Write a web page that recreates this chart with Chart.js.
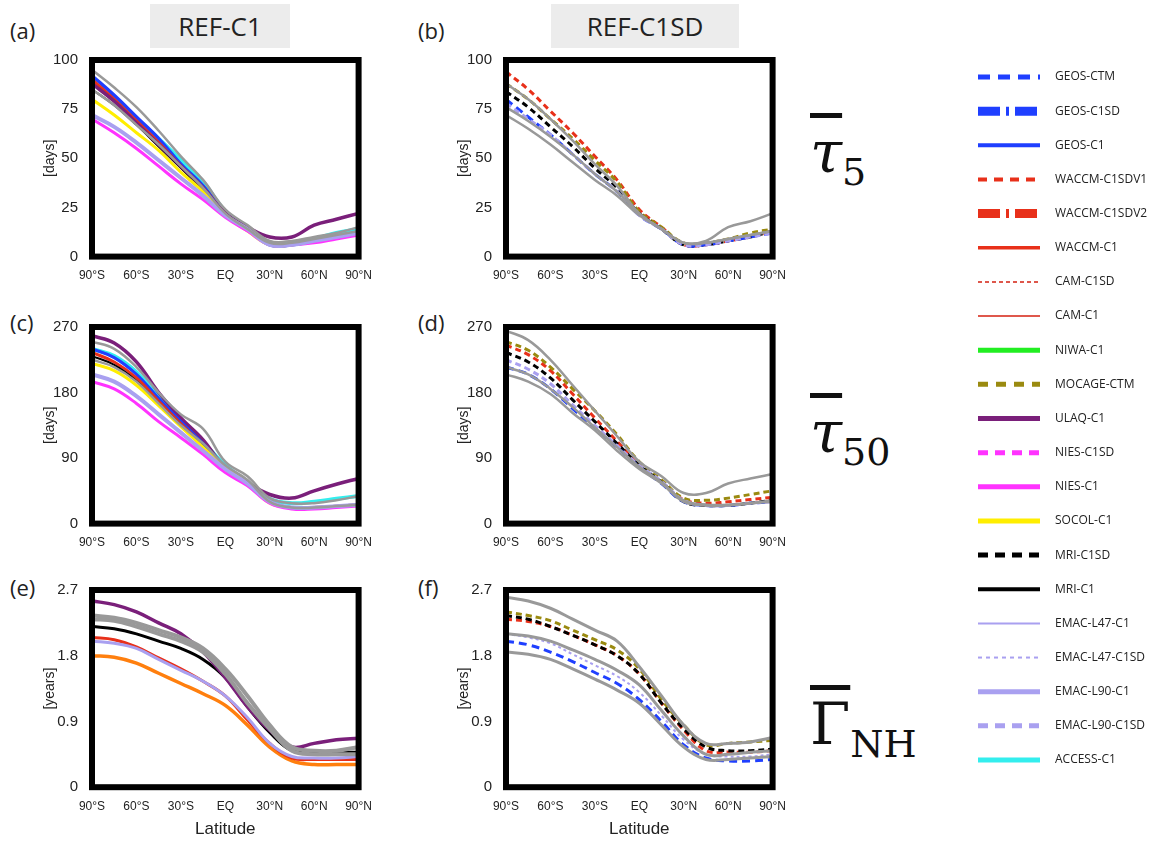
<!DOCTYPE html>
<html><head><meta charset="utf-8">
<script src="https://cdn.jsdelivr.net/npm/chart.js@4"></script>
<style>
body{margin:0;width:1171px;height:844px;background:#fff;position:relative;font-family:"Open Sans",sans-serif;overflow:hidden}
.p{position:absolute}
.lab{position:absolute;font-size:22px;color:#222}
.hdr{position:absolute;background:#ececec;font-size:26px;color:#222;text-align:center;line-height:44px}
.math{position:absolute;font-family:"DejaVu Serif",serif;font-size:58px;color:#111}
.math sub{font-size:38px;font-style:normal}
.ov{text-decoration:overline;font-style:italic}
</style></head><body>
<div class="lab" style="left:10px;top:15px">(a)</div>
<div class="lab" style="left:418px;top:15px">(b)</div>
<div class="lab" style="left:10px;top:307px">(c)</div>
<div class="lab" style="left:418px;top:307px">(d)</div>
<div class="lab" style="left:10px;top:572px">(e)</div>
<div class="lab" style="left:418px;top:572px">(f)</div>
<div class="hdr" style="left:150px;top:4px;width:140px;height:44px">REF-C1</div>
<div class="hdr" style="left:551px;top:4px;width:188px;height:44px">REF-C1SD</div>
<div class="math" style="left:810px;top:118px"><span class="ov">τ</span><sub>5</sub></div>
<div class="math" style="left:810px;top:398px"><span class="ov">τ</span><sub>50</sub></div>
<div class="math" style="left:810px;top:690px"><span style="text-decoration:overline">Γ</span><sub>NH</sub></div>
<div class="p" style="left:42px;top:45px;width:334px;height:242px"><canvas id="a"></canvas></div>
<div class="p" style="left:456px;top:45px;width:334px;height:242px"><canvas id="b"></canvas></div>
<div class="p" style="left:42px;top:312px;width:334px;height:242px"><canvas id="c"></canvas></div>
<div class="p" style="left:456px;top:312px;width:334px;height:242px"><canvas id="d"></canvas></div>
<div class="p" style="left:42px;top:575px;width:334px;height:269px"><canvas id="e"></canvas></div>
<div class="p" style="left:456px;top:575px;width:334px;height:269px"><canvas id="f"></canvas></div>
<canvas id="leg" class="p" style="left:960px;top:60px" width="211" height="720"></canvas>
<script>
const lats=[-90,-75,-60,-45,-30,-15,0,15,30,45,60,75,90];
const xTickLabels={"-90":"90°S","-60":"60°S","-30":"30°S","0":"EQ","30":"30°N","60":"60°N","90":"90°N"};
const yTicks5=[0,25,50,75,100], yTicks50=[0,90,180,270], yTicksG=[0,0.9,1.8,2.7];

const B='#1f3fff',R='#e8301a',G='#999999',P='#7a1f7a',M='#ff33ff',Y='#ffee00',K='#000000',L='#a9a0f0',C='#33eeee',O='#ff7f0e',OL='#9a8a10';
const ser_a=[
["grey1",G,2.5,[],[95,86,76,64,51,39,24,16,8,8,10,12,15]],
["grey2",G,2.5,[],[85,77,67,57,46,35,22,14,7,7,9,11,13]],
["EMAC-L90-C1",L,4,[],[72,66,58,49,40,31,21,14,6,6,8,10,12]],
["NIES-C1",M,3,[],[70,63,55,46,37,29,20,13,6,6,7,9,11]],
["SOCOL-C1",Y,3,[],[80,72,63,54,43,33,21,13,6,6,8,10,12]],
["ULAQ-C1",P,3.5,[],[88,79,68,57,46,35,22,15,10,10,16,19,22]],
["MRI-C1",K,2,[],[85,77,67,56,45,34,22,14,6,6,8,10,12]],
["WACCM-C1",R,3,[],[90,80,69,58,46,35,22,14,6,6,8,10,12]],
["GEOS-C1",B,3.5,[],[92,82,71,60,47,36,22,14,6,6,8,10,12]],
["ACCESS-C1",C,4,[],[88,80,70,60,49,38,23,15,7,7,9,12,14]]];
const ser_b=[
["grey1",G,2.5,[],[72,65,57,48,39,31,21,14,7,8,15,18,22]],
["grey2",G,2.5,[],[76,69,61,52,42,33,22,14,7,7,9,11,13]],
["grey3",G,2.5,[],[88,80,70,59,47,36,22,14,7,7,9,11,13]],
["EMAC-L90-C1SD",L,3,[6,4],[78,70,62,52,42,33,21,14,6,6,8,10,12]],
["GEOS-CTM",B,3,[8,5],[80,71,62,52,42,33,21,14,6,6,8,10,12]],
["MRI-C1SD",K,3,[6,4],[84,76,66,56,45,35,22,14,6,6,8,10,13]],
["MOCAGE-CTM",OL,3,[6,4],[88,80,70,60,49,38,23,15,7,7,9,12,14]],
["WACCM-C1SDV1",R,3,[6,4],[94,85,74,63,51,39,24,15,6,6,8,10,13]]];
const ser_c=[
["grey1",G,2.5,[],[250,240,215,180,150,130,85,65,35,28,28,32,38]],
["grey2",G,2.5,[],[225,215,195,165,135,110,80,60,30,22,22,24,26]],
["EMAC-L90-C1",L,4,[],[205,195,175,150,125,100,75,55,30,22,22,24,26]],
["NIES-C1",M,3,[],[195,185,165,140,118,95,70,52,28,20,20,22,24]],
["SOCOL-C1",Y,3,[],[220,210,190,162,133,105,78,55,28,22,22,24,26]],
["MRI-C1",K,2,[],[230,218,196,165,135,107,78,55,30,22,22,24,26]],
["WACCM-C1",R,3,[],[235,222,200,168,137,108,78,55,30,22,22,24,26]],
["GEOS-C1",B,3,[],[240,228,205,172,140,110,78,56,30,22,22,24,26]],
["ULAQ-C1",P,3.5,[],[258,248,222,180,145,115,76,56,40,35,45,54,62]],
["ACCESS-C1",C,4,[],[240,230,208,175,142,112,80,57,34,28,30,34,38]]];
const ser_d=[
["grey1",G,2.5,[],[265,252,225,190,155,120,85,65,42,42,55,62,68]],
["grey2",G,2.5,[],[205,195,178,152,128,100,75,55,30,25,25,28,30]],
["grey3",G,2.5,[],[215,205,185,160,132,105,78,57,32,26,26,28,32]],
["EMAC-L90-C1SD",L,3,[6,4],[225,212,192,163,135,107,80,58,32,25,25,28,30]],
["GEOS-CTM",B,3,[8,5],[215,205,185,158,130,105,78,55,30,25,25,28,30]],
["MRI-C1SD",K,3,[6,4],[235,222,200,170,140,110,80,57,30,25,25,28,32]],
["MOCAGE-CTM",OL,3,[6,4],[250,238,215,185,155,122,85,60,35,32,35,40,45]],
["WACCM-C1SDV1",R,3,[6,4],[245,232,210,178,145,113,80,56,33,28,30,33,36]]];
const ser_e=[
["grey1",G,4,[],[2.35,2.32,2.25,2.15,2.05,1.9,1.62,1.25,0.85,0.55,0.5,0.5,0.55]],
["grey2",G,4,[],[2.3,2.28,2.2,2.1,2.0,1.85,1.55,1.15,0.8,0.5,0.45,0.45,0.45]],
["EMAC",L,3,[],[2.0,1.97,1.9,1.75,1.6,1.45,1.25,0.95,0.6,0.42,0.4,0.4,0.42]],
["ULAQ-C1",P,3.5,[],[2.55,2.5,2.4,2.25,2.1,1.85,1.5,1.1,0.78,0.55,0.6,0.65,0.67]],
["MRI-C1",K,3,[],[2.2,2.17,2.1,2.0,1.9,1.75,1.5,1.1,0.75,0.5,0.48,0.48,0.48]],
["WACCM-C1",R,3,[],[2.05,2.02,1.92,1.77,1.62,1.45,1.25,0.92,0.6,0.4,0.38,0.38,0.38]],
["orange",O,3.5,[],[1.8,1.78,1.7,1.56,1.42,1.28,1.12,0.85,0.55,0.36,0.31,0.31,0.31]]];
const ser_f=[
["grey1",G,3,[],[2.6,2.55,2.45,2.3,2.15,2.0,1.65,1.25,0.85,0.6,0.6,0.62,0.68]],
["grey2",G,3,[],[1.85,1.82,1.75,1.62,1.48,1.33,1.15,0.85,0.55,0.38,0.38,0.4,0.42]],
["grey3",G,3,[],[2.1,2.07,2.0,1.88,1.75,1.6,1.4,1.05,0.7,0.45,0.45,0.48,0.5]],
["EMAC-L47-C1SD",L,2,[3,3],[2.1,2.05,1.97,1.82,1.67,1.52,1.3,0.98,0.65,0.45,0.42,0.42,0.45]],
["GEOS-CTM",B,3,[8,5],[2.0,1.95,1.85,1.72,1.57,1.42,1.2,0.9,0.58,0.4,0.36,0.36,0.38]],
["MRI-C1SD",K,3,[6,4],[2.35,2.3,2.2,2.08,1.95,1.8,1.55,1.15,0.8,0.55,0.5,0.5,0.52]],
["MOCAGE-CTM",OL,3,[6,4],[2.4,2.35,2.28,2.15,2.02,1.88,1.62,1.2,0.85,0.58,0.6,0.62,0.64]],
["WACCM-C1SDV1",R,3,[6,4],[2.3,2.27,2.2,2.08,1.95,1.8,1.55,1.15,0.78,0.5,0.48,0.48,0.5]]];

const frame={id:'frame',afterDatasetsDraw(ch){const a=ch.chartArea,c=ch.ctx;c.save();c.strokeStyle='#000';c.lineWidth=6;c.strokeRect(a.left,a.top,a.right-a.left,a.bottom-a.top);c.restore();}};
function mk(id,ser,yt,ytitle,xt){
 new Chart(document.getElementById(id),{type:'line',
 data:{datasets:ser.map(s=>({label:s[0],borderColor:s[1],borderWidth:s[2],borderDash:s[3],data:lats.map((x,i)=>({x,y:s[4][i]})),pointRadius:0,tension:0.4,fill:false}))},
 options:{responsive:true,maintainAspectRatio:false,animation:false,
  layout:{padding:{top:3,right:6}},
  plugins:{legend:{display:false},tooltip:{enabled:false}},
  scales:{
   x:{type:'linear',min:-90,max:90,grid:{display:false},border:{display:false},
      afterBuildTicks(s){s.ticks=[-90,-60,-30,0,30,60,90].map(v=>({value:v}));},
      ticks:{callback:v=>xTickLabels[v],color:'#222',font:{size:12},maxRotation:0,autoSkip:false,padding:4},
      title:{display:!!xt,text:xt||'',color:'#222',font:{size:17},padding:{top:2}}},
   y:{min:yt[0],max:yt[yt.length-1],grid:{display:false},border:{display:false},
      afterBuildTicks(s){s.ticks=yt.map(v=>({value:v}));},
      afterFit(s){s.width=50;},
      ticks:{color:'#222',font:{size:15},padding:6},
      title:{display:true,text:ytitle,color:'#222',font:{size:14},padding:0}}}},
 plugins:[frame]});
}
mk('a',ser_a,yTicks5,'[days]');mk('b',ser_b,yTicks5,'[days]');
mk('c',ser_c,yTicks50,'[days]');mk('d',ser_d,yTicks50,'[days]');
mk('e',ser_e,yTicksG,'[years]','Latitude');mk('f',ser_f,yTicksG,'[years]','Latitude');

const legItems=[
["GEOS-CTM",B,5,[12,8]],["GEOS-C1SD",B,9,[22,6,3,6]],["GEOS-C1",B,4,[]],
["WACCM-C1SDV1",R,4,[9,7]],["WACCM-C1SDV2",R,9,[22,6,3,6]],["WACCM-C1",R,3.5,[]],
["CAM-C1SD",'#d42010',1.5,[4,3]],["CAM-C1",'#d42010',1.5,[]],["NIWA-C1",'#22ee22',5,[]],
["MOCAGE-CTM",OL,5,[10,8]],["ULAQ-C1",P,5,[]],["NIES-C1SD",M,5,[10,7]],["NIES-C1",M,5,[]],
["SOCOL-C1",Y,5,[]],["MRI-C1SD",K,5,[10,7]],["MRI-C1",K,4,[]],["EMAC-L47-C1",L,2,[]],
["EMAC-L47-C1SD",L,2,[4,4]],["EMAC-L90-C1",L,5,[]],["EMAC-L90-C1SD",L,5,[10,7]],["ACCESS-C1",C,5,[]]];
const lc=document.getElementById('leg').getContext('2d');
lc.font='12px "Open Sans", sans-serif';lc.textBaseline='middle';
legItems.forEach((it,i)=>{const y=17+i*34.15;lc.strokeStyle=it[1];lc.lineWidth=it[2];lc.setLineDash(it[3]);
 lc.beginPath();lc.moveTo(18,y);lc.lineTo(80,y);lc.stroke();lc.fillStyle='#222';lc.fillText(it[0],95,y);});
</script></body></html>
